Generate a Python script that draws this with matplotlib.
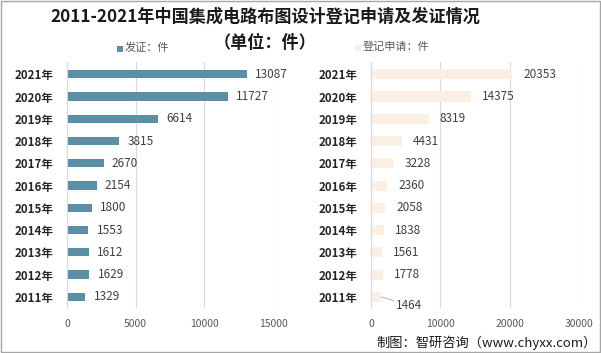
import matplotlib
matplotlib.use("Agg")
import matplotlib.pyplot as plt
from matplotlib.patches import Rectangle

plt.rcParams['font.family'] = ['Noto Sans CJK SC', 'DejaVu Sans']

years = ['2011年', '2012年', '2013年', '2014年', '2015年', '2016年',
         '2017年', '2018年', '2019年', '2020年', '2021年']
certified = [1329, 1629, 1612, 1553, 1800, 2154, 2670, 3815, 6614, 11727, 13087]
applied = [1464, 1778, 1561, 1838, 2058, 2360, 3228, 4431, 8319, 14375, 20353]
left_ticks = [0, 5000, 10000, 15000]
right_ticks = [0, 10000, 20000, 30000]

C_LEFT = '#5B8FA6'
C_RIGHT = '#FBEEE2'
GRID = '#D9D9D9'
TXT = '#404040'
TICK = '#595959'

fig = plt.figure(figsize=(6.01, 3.53), dpi=100)
fig.patches.append(Rectangle((0.001, 0.002), 0.997, 0.995, transform=fig.transFigure,
                             fill=False, edgecolor='#A6A6A6', linewidth=1.0))

ax1 = fig.add_axes([67/601, 1-308/353, 206/601, 246/353])
ax2 = fig.add_axes([371/601, 1-308/353, 208/601, 246/353])

y = list(range(len(years)))

def style(ax, ticks, xmax):
    ax.set_xlim(0, xmax)
    ax.set_ylim(-0.5, 10.55)
    ax.set_xticks(ticks)
    ax.set_xticklabels([str(t) for t in ticks], fontsize=7.5, color=TICK)
    ax.set_yticks(y)
    ax.set_yticklabels(years, fontsize=8.3, fontweight='bold', color='#262626')
    ax.tick_params(axis='both', length=0)
    ax.tick_params(axis='x', pad=8)
    ax.tick_params(axis='y', pad=10)
    for s in ['top', 'right', 'bottom']:
        ax.spines[s].set_visible(False)
    ax.spines['left'].set_color(GRID)
    ax.grid(axis='x', color=GRID, linewidth=0.8)
    ax.set_axisbelow(True)
    ax.patch.set_alpha(0)

ax1.barh(y, certified, height=0.37, color=C_LEFT)
style(ax1, left_ticks, 15000)
for yi, v in zip(y, certified):
    ax1.text(v + 600, yi, str(v), va='center', ha='left', fontsize=8.5, color=TXT)

ax2.barh(y, applied, height=0.45, color=C_RIGHT)
style(ax2, right_ticks, 30000)
for yi, v in zip(y, applied):
    if yi == 0:
        ax2.annotate(str(v), xy=(v, yi), xytext=(v + 2200, yi - 0.38),
                     va='center', ha='left', fontsize=8.5, color=TXT,
                     arrowprops=dict(arrowstyle='-', color='#A6A6A6', lw=0.6,
                                     shrinkA=0, shrinkB=0))
    else:
        ax2.text(v + 1600, yi, str(v), va='center', ha='left', fontsize=8.5, color=TXT)

fig.text(265/601, 1-17/353, '2011-2021年中国集成电路布图设计登记申请及发证情况',
         ha='center', va='center', fontsize=12.3, fontweight='bold', color='#1a1a1a')
fig.text(265/601, 1-43/353, '（单位：件）', ha='center', va='center',
         fontsize=12.3, fontweight='bold', color='#1a1a1a')

# legends
fig.patches.append(Rectangle((117/601, 1-52/353), 6/601, 6/353, transform=fig.transFigure,
                             facecolor=C_LEFT, edgecolor='none'))
fig.text(125/601, 1-48/353, '发证：件', ha='left', va='center', fontsize=8, color=TICK)
fig.patches.append(Rectangle((355/601, 1-51/353), 6/601, 6/353, transform=fig.transFigure,
                             facecolor=C_RIGHT, edgecolor='none'))
fig.text(363/601, 1-47/353, '登记申请：件', ha='left', va='center', fontsize=8, color=TICK)

fig.text(597/601, 1-343/353, '制图：智研咨询（www.chyxx.com）', ha='right', va='center',
         fontsize=9.5, color='#1a1a1a')

fig.savefig('out.png', dpi=100)
